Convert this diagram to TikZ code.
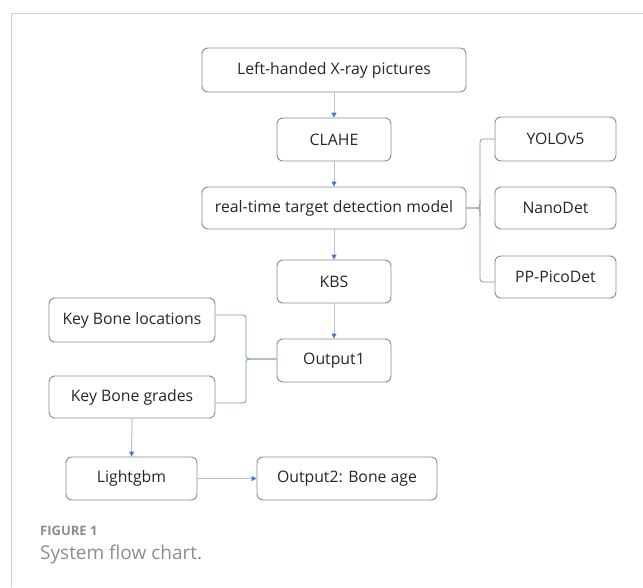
\documentclass[tikz,border=0pt]{standalone}
\usepackage{fontspec}
\setmainfont{Open Sans}
\usetikzlibrary{arrows.meta,calc}
\definecolor{boxline}{HTML}{8A8A8A}
\definecolor{arrline}{HTML}{B8C0CC}
\definecolor{tipblue}{HTML}{4A78C4}
\definecolor{braceline}{HTML}{7890B4}
\definecolor{framegray}{HTML}{D0D0D0}
\definecolor{capgray}{HTML}{8C8C8C}
\tikzset{
  stepbox/.style={draw=boxline, line width=0.9pt, rounded corners=6pt,
    font=\fontsize{15.8}{18}\selectfont, text=black!85, inner sep=0pt},
  flow/.style={draw=arrline, line width=1pt,
    -{Triangle[length=5pt, width=5pt, color=tipblue]}},
  bracket/.style={draw=braceline, line width=0.8pt, rounded corners=3pt},
}
\begin{document}
\begin{tikzpicture}[x=1pt, y=-1pt]
\useasboundingbox (0,0) rectangle (643,587);
% outer frame (top and left rules)
\draw[framegray, line width=1pt] (11.5,587) -- (11.5,13) -- (643,13);

% main column
\node[stepbox, minimum width=264pt, minimum height=44pt] (src)   at (334,70)    {Left-handed X-ray pictures};
\node[stepbox, minimum width=114pt, minimum height=43pt] (clahe) at (334,139.5) {CLAHE};
\node[stepbox, minimum width=264pt, minimum height=42pt] (model) at (334,208)   {real-time target detection model};
\node[stepbox, minimum width=114pt, minimum height=43pt] (kbs)   at (334,281.5) {KBS};
\node[stepbox, minimum width=114pt, minimum height=43pt] (out1)  at (334,360.5) {Output1};

% detector choices
\node[stepbox, minimum width=121pt, minimum height=44pt] (yolo) at (555.5,139) {YOLOv5};
\node[stepbox, minimum width=121pt, minimum height=42pt] (nano) at (555.5,208) {NanoDet};
\node[stepbox, minimum width=121pt, minimum height=42pt] (pico) at (555.5,277) {PP-PicoDet};

% outputs of the key bone step
\node[stepbox, minimum width=166pt, minimum height=44pt] (kbl) at (132,320) {Key Bone locations};
\node[stepbox, minimum width=166pt, minimum height=42pt] (kbg) at (132,397) {Key Bone grades};

% regression stage
\node[stepbox, minimum width=131pt, minimum height=43pt] (lgbm) at (131.5,478.5) {Lightgbm};
\node[stepbox, minimum width=180pt, minimum height=43pt] (out2) at (347,478.5)   {Output2: Bone age};

% main flow arrows
\draw[flow] (src) -- (clahe);
\draw[flow] (clahe) -- (model);
\draw[flow] (model) -- (kbs);
\draw[flow] (kbs) -- (out1);
\draw[flow] (kbg) -- (lgbm);
\draw[flow] (lgbm) -- (out2);

% bracket joining the detection model to its three variants
\coordinate (rb) at (480,208);
\draw[bracket] (yolo.west) -| ($(rb)+(0,-8)$) -- (rb |- model.east);
\draw[bracket] ([yshift=-5pt]pico.west) -| ($(rb)+(0,8)$) -- (rb |- model.east);
\draw[bracket] ($(rb)+(0,-9)$) |- (model.east);
\draw[bracket] ($(rb)+(0,9)$) |- (model.east);

% bracket joining the key bone results to Output1
\coordinate (lb) at (246,359);
\draw[bracket] ([yshift=5pt]kbl.east) -| ($(lb)+(0,-9)$) |- ([yshift=1.5pt]out1.west);
\draw[bracket] ([yshift=-6pt]kbg.east) -| ($(lb)+(0,9)$) |- ([yshift=1.5pt]out1.west);

% caption
\node[anchor=west, text=capgray, font=\fontsize{13}{15}\selectfont\bfseries, inner sep=0pt] (figlbl) at (40,531) {FIGURE 1};
\node[anchor=west, text=capgray, font=\fontsize{19}{22}\selectfont, inner sep=0pt] (figcap) at (40,555) {System flow chart.};
\end{tikzpicture}
\end{document}
